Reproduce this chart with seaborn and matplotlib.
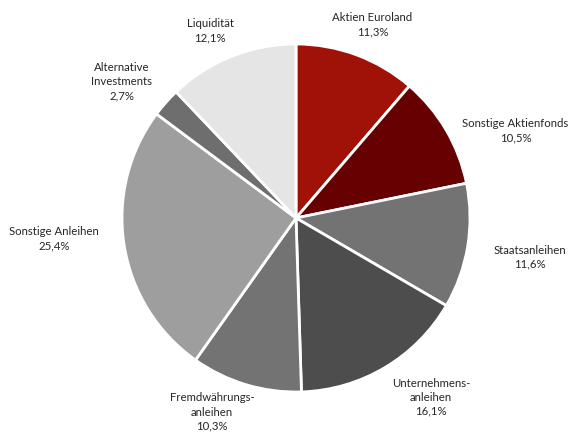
import matplotlib
matplotlib.use("Agg")
import matplotlib.pyplot as plt
import seaborn as sns

sns.set_theme(style="white")
plt.rcParams['font.family'] = ['Lato', 'DejaVu Sans']

# Data
categories = ["Aktien Euroland", "Sonstige Aktienfonds", "Staatsanleihen",
              "Unternehmens-\nanleihen", "Fremdwährungs-\nanleihen", "Sonstige Anleihen",
              "Alternative\nInvestments", "Liquidität"]
values = [11.3, 10.5, 11.6, 16.1, 10.3, 25.4, 2.7, 12.1]
pct_labels = ["11,3%", "10,5%", "11,6%", "16,1%", "10,3%", "25,4%", "2,7%", "12,1%"]

# Styles
colors = ["#A01108", "#670000", "#737373", "#4D4D4D", "#737373", "#9E9E9E", "#6E6E6E", "#E5E5E5"]
label_pos = [(0.44, 1.11), (1.262, 0.50), (1.345, -0.225), (0.776, -1.03),
             (-0.483, -1.115), (-1.39, -0.121), (-1.0, 0.782), (-0.494, 1.075)]

W, H = 569, 432
fig = plt.figure(figsize=(W / 100, H / 100), dpi=100)
cx, cy, r = 296, 218, 174
ax = fig.add_axes([(cx - r) / W, 1 - (cy + r) / H, 2 * r / W, 2 * r / H])
ax.pie(values, colors=colors, startangle=90, counterclock=False, radius=1,
       wedgeprops=dict(edgecolor="white", linewidth=2))
ax.set_xlim(-1, 1)
ax.set_ylim(-1, 1)
ax.axis("off")

for (x, y), cat, p in zip(label_pos, categories, pct_labels):
    ax.text(x, y, f"{cat}\n{p}", ha="center", va="center", fontsize=8.2,
            color="#262626", linespacing=1.35, clip_on=False)

fig.savefig("out.png", dpi=100)
